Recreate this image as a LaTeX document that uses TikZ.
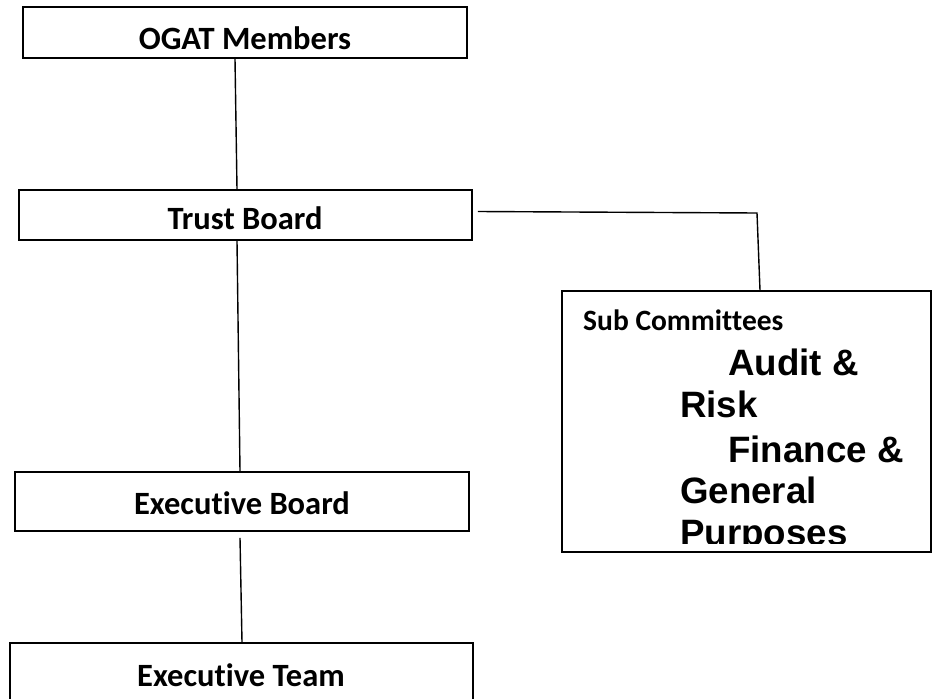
\documentclass[tikz,border=0pt]{standalone}
\usepackage{fontspec}
\setmainfont{Carlito}[Ligatures=NoCommon]
\newfontfamily\arialfont{Liberation Sans}
\begin{document}
\begin{tikzpicture}[x=1pt,y=-1pt,
  box/.style={draw, line width=1.7pt, inner sep=0pt},
  lbl/.style={font=\fontsize{32.5}{38}\selectfont\bfseries, anchor=base, inner sep=0pt},
  sublbl/.style={font=\fontsize{29.5}{34}\selectfont\bfseries, anchor=base west, inner sep=0pt},
  biglbl/.style={font=\arialfont\fontsize{36.7}{42}\selectfont\bfseries, anchor=base west, inner sep=0pt},
  conn/.style={line width=1.4pt}]
\useasboundingbox (0,0) rectangle (938,699);
% boxes
\node[box, minimum width=444pt, minimum height=51pt] (ogat) at (245,32.5) {};
\node[box, minimum width=453pt, minimum height=50pt] (trust) at (245.5,215) {};
\node[box, minimum width=454pt, minimum height=59pt] (execb) at (242,501.5) {};
\node[box, minimum width=463pt, minimum height=67pt] (exect) at (241.5,676.5) {};
\node[box, minimum width=369pt, minimum height=261pt] (sub) at (746.5,421.5) {};
% labels
\node[lbl] (ogatt) at (245,49) {OGAT Members};
\node[lbl] (trustt) at (245,229) {Trust Board};
\node[lbl] (execbt) at (242,514) {Executive Board};
\node[lbl] (exectt) at (241,686) {Executive Team};
\node[sublbl] (subt) at (583,330) {Sub Committees};
\begin{scope}
\clip (563,292) rectangle (930,543);
\node[biglbl] (s1) at (728,375) {Audit \&};
\node[biglbl] (s2) at (680,417) {Risk};
\node[biglbl] (s3) at (728,462) {Finance \&};
\node[biglbl] (s4) at (680,503) {General};
\node[biglbl] (s5) at (680,545) {Purposes};
\end{scope}
% connectors
\coordinate (bend) at (757,213);
\draw[conn] ([xshift=-10pt]ogat.south) -- ([xshift=-8.5pt]trust.north);
\draw[conn] ([xshift=-8.5pt]trust.south) -- ([xshift=-2pt]execb.north);
\draw[conn] ([xshift=-2pt,yshift=-6pt]execb.south) -- ([xshift=0.5pt]exect.north);
\draw[conn] ([xshift=5pt,yshift=3.5pt]trust.east) -- (bend) -- ([xshift=13.5pt]sub.north);
\end{tikzpicture}
\end{document}
